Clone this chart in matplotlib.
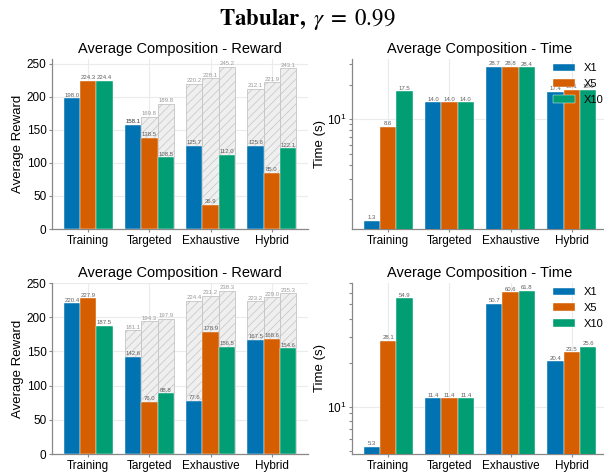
import matplotlib.pyplot as plt
import matplotlib.ticker as mticker
import numpy as np

plt.rcParams['font.family'] = ['Liberation Sans', 'DejaVu Sans']
plt.rcParams['mathtext.fontset'] = 'stix'
plt.rcParams['hatch.linewidth'] = 0.5
plt.rcParams['hatch.color'] = '#b8b8b8'

categories = ['Training', 'Targeted', 'Exhaustive', 'Hybrid']
series = ['X1', 'X5', 'X10']
colors = ['#0173B2', '#D55E00', '#029E73']

# top row
reward_top = [[198.0, 158.1, 125.7, 125.6],
              [224.3, 138.5, 36.9, 85.0],
              [224.4, 108.5, 112.0, 122.1]]
bound_top = [[np.nan, 158.1, 220.2, 212.1],
             [np.nan, 169.8, 228.1, 221.9],
             [np.nan, 189.8, 245.2, 243.1]]
time_top = [[1.3, 14.0, 28.7, 17.4],
            [8.6, 14.0, 28.8, 18.1],
            [17.5, 14.0, 28.4, 18.0]]

# bottom row
reward_bot = [[220.4, 142.6, 77.6, 167.5],
              [227.9, 76.0, 178.9, 168.6],
              [187.5, 88.8, 156.5, 154.6]]
bound_bot = [[np.nan, 181.1, 224.4, 223.2],
             [np.nan, 194.3, 231.2, 229.0],
             [np.nan, 197.9, 238.3, 235.3]]
time_bot = [[5.3, 11.4, 50.7, 20.4],
            [28.1, 11.4, 60.6, 23.5],
            [54.9, 11.4, 61.8, 25.6]]

W, H = 604, 473
fig = plt.figure(figsize=(W / 100, H / 100), dpi=100)

def box(x0, y0, x1, y1):
    return [x0 / W, 1 - y1 / H, (x1 - x0) / W, (y1 - y0) / H]

def style(ax):
    for s in ['top', 'right']:
        ax.spines[s].set_visible(False)
    for s in ['left', 'bottom']:
        ax.spines[s].set_color('#888888')
        ax.spines[s].set_linewidth(0.9)
    ax.grid(True, color='#ebebeb', linewidth=0.8)
    ax.set_axisbelow(True)
    ax.tick_params(axis='both', which='both', colors='#888888', labelcolor='black',
                   labelsize=8.5, width=0.8, pad=1.5)
    ax.tick_params(which='major', length=2.5)
    ax.tick_params(which='minor', length=2)

x = np.arange(len(categories))
w = 0.8 / 3

def reward_plot(ax, vals, bounds):
    style(ax)
    for i in range(3):
        pos = x + (i - 1) * w
        b = np.array(bounds[i])
        ok = ~np.isnan(b)
        ax.bar(pos[ok], b[ok], w, color='#efefef', edgecolor='#c4c4c4',
               linewidth=0.6, hatch='////', zorder=2)
        ax.bar(pos, vals[i], w, color=colors[i], edgecolor='white',
               linewidth=0.3, zorder=3)
        for p, v in zip(pos[ok], b[ok]):
            ax.text(p, v + 1, f'{v:.1f}', ha='center', va='bottom',
                    fontsize=4.3, color='#9a9a9a', zorder=4)
        for p, v in zip(pos, vals[i]):
            ax.text(p, v + 1, f'{v:.1f}', ha='center', va='bottom',
                    fontsize=4.3, color='#606060', zorder=4)
    ax.set_xticks(x, categories)
    ax.set_yticks([0, 50, 100, 150, 200, 250])
    ax.set_ylabel('Average Reward', fontsize=9.5, labelpad=2)
    ax.set_title('Average Composition - Reward', fontsize=10.5, pad=4)

def time_plot(ax, vals, ylim):
    style(ax)
    ax.set_yscale('log')
    for i in range(3):
        pos = x + (i - 1) * w
        ax.bar(pos, vals[i], w, color=colors[i], edgecolor='white',
               linewidth=0.3, zorder=3, label=series[i])
        for p, v in zip(pos, vals[i]):
            ax.text(p, v * 1.01, f'{v:.1f}', ha='center', va='bottom',
                    fontsize=4.3, color='#606060', zorder=4)
    ax.set_ylim(*ylim)
    ax.yaxis.set_minor_formatter(mticker.NullFormatter())
    ax.set_xticks(x, categories)
    ax.set_ylabel('Time (s)', fontsize=9.5, labelpad=1)
    ax.set_title('Average Composition - Time', fontsize=10.5, pad=4)
    ax.legend(loc='upper left', bbox_to_anchor=(0.767, 1.0), borderaxespad=0,
              frameon=False, fontsize=8, handlelength=2.0)

ax1 = fig.add_axes(box(52, 59, 308, 229))
reward_plot(ax1, reward_top, bound_top)
ax2 = fig.add_axes(box(352, 59, 608, 229))
time_plot(ax2, time_top, (1.1, 33.5))
ax3 = fig.add_axes(box(52, 283, 308, 454))
reward_plot(ax3, reward_bot, bound_bot)
ax4 = fig.add_axes(box(352, 283, 608, 454))
time_plot(ax4, time_bot, (4.75, 70))

for ax in [ax1, ax2, ax3, ax4]:
    ax.set_xlim(-0.59, 3.59)

fig.text(307 / W, 1 - 19 / H, r'$\mathbf{Tabular,}\ \gamma\;=\;0.99$',
         ha='center', va='center', fontsize=16.5)

fig.savefig('out.png', dpi=100)
